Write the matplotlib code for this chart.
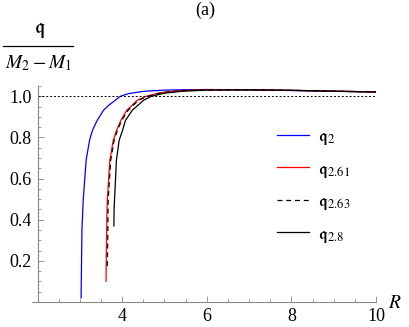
import matplotlib
matplotlib.use("Agg")
import matplotlib.pyplot as plt
from matplotlib.lines import Line2D

plt.rcParams.update({
    'font.family': 'Liberation Serif',
    'mathtext.fontset': 'stix',
    'font.size': 13,
})

# values
R_q2 = [3.03, 3.05, 3.08, 3.15, 3.23, 3.30, 3.41, 3.56, 3.68, 3.84, 3.96, 4.15,
        4.50, 5.0, 5.5, 6.0, 7.0, 8.0, 9.0, 10.0]
y_q2 = [0.02, 0.35, 0.495, 0.69, 0.786, 0.835, 0.883, 0.932, 0.956, 0.981, 1.0,
        1.013, 1.024, 1.030, 1.032, 1.033, 1.031, 1.028, 1.024, 1.021]

R_q261 = [3.62, 3.63, 3.64, 3.65, 3.71, 3.79, 3.87, 3.97, 4.11, 4.36, 4.57,
          4.91, 5.38, 6.0, 7.0, 8.0, 9.0, 10.0]
y_q261 = [0.10, 0.30, 0.42, 0.495, 0.689, 0.786, 0.835, 0.883, 0.932, 0.981,
          1.0, 1.018, 1.028, 1.032, 1.032, 1.029, 1.025, 1.021]

R_q263 = [3.65, 3.66, 3.67, 3.73, 3.81, 3.89, 3.99, 4.14, 4.39, 4.61, 4.95,
          5.44, 6.0, 7.0, 8.0, 9.0, 10.0]
y_q263 = [0.175, 0.30, 0.495, 0.689, 0.786, 0.835, 0.883, 0.932, 0.981, 1.0,
          1.018, 1.028, 1.031, 1.032, 1.029, 1.025, 1.021]

R_q28 = [3.805, 3.81, 3.82, 3.865, 3.93, 4.01, 4.08, 4.24, 4.51, 4.69, 5.0,
         5.4, 6.0, 7.0, 8.0, 9.0, 10.0]
y_q28 = [0.37, 0.45, 0.495, 0.689, 0.786, 0.835, 0.883, 0.932, 0.981, 1.0,
         1.015, 1.024, 1.030, 1.031, 1.029, 1.025, 1.021]

labels = [r'$\mathfrak{q}_{2}$', r'$\mathfrak{q}_{2.61}$',
          r'$\mathfrak{q}_{2.63}$', r'$\mathfrak{q}_{2.8}$']

x_major = [4, 6, 8, 10]
x_minor = [2.5, 3, 3.5, 4.5, 5, 5.5, 6.5, 7, 7.5, 8.5, 9, 9.5]
y_major = [0.2, 0.4, 0.6, 0.8, 1.0]
y_minor = [0.05, 0.1, 0.15, 0.25, 0.3, 0.35, 0.45, 0.5, 0.55, 0.65, 0.7,
           0.75, 0.85, 0.9, 0.95, 1.05]

fig = plt.figure(figsize=(4.09, 3.27), dpi=100)
ax = fig.add_axes([32 / 409, 25 / 327, 344 / 409, 216 / 327])

ax.plot(R_q2, y_q2, color='#0000ff', lw=0.9, label=labels[0])
ax.plot(R_q261, y_q261, color='#ff0000', lw=0.9, label=labels[1])
ax.plot(R_q263, y_q263, color='black', lw=0.9, dashes=(4, 3), label=labels[2])
ax.plot(R_q28, y_q28, color='black', lw=0.9, label=labels[3])

# reference line at 1
ax.plot([2.0, 10.0], [1.0, 1.0], color='black', lw=0.7, dashes=(2, 2))

ax.set_xlim(1.87, 10.0)
ax.set_ylim(0, 1.05)

for s in ['top', 'right']:
    ax.spines[s].set_visible(False)
ax.spines['left'].set_position(('data', 2.0))
for s in ['left', 'bottom']:
    ax.spines[s].set_color('#888888')
    ax.spines[s].set_linewidth(0.8)

ax.set_xticks(x_major)
ax.set_xticks(x_minor, minor=True)
ax.set_yticks(y_major)
ax.set_yticks(y_minor, minor=True)
ax.set_yticklabels([f"{v:.1f}" for v in y_major])
ax.tick_params(which='both', direction='in', color='#888888', width=0.6)
ax.tick_params(which='major', length=4.5, pad=4)
ax.tick_params(which='minor', length=2.5)

fig.text(205 / 409, 1 - 10 / 327, '(a)', ha='center', va='center', fontsize=13)
fig.text(395 / 409, 1 - 303 / 327, r'$R$', ha='center', va='center', fontsize=14)

# axis label as a stacked fraction
fig.text(40 / 409, 1 - 31 / 327, r'$\mathfrak{q}$', ha='center', va='center',
         fontsize=15)
fig.add_artist(Line2D([3 / 409, 73 / 409], [1 - 46 / 327, 1 - 46 / 327],
                      color='black', lw=0.9, transform=fig.transFigure))
fig.text(38 / 409, 1 - 63 / 327, r'$M_2 - M_1$', ha='center', va='center',
         fontsize=14)

ax.legend(loc='upper left', bbox_to_anchor=(277 / 409, 1 - 128 / 327),
          bbox_transform=fig.transFigure, frameon=False, borderpad=0,
          borderaxespad=0, handlelength=1.75, handletextpad=0.5,
          labelspacing=0.75, fontsize=13)

fig.savefig('out.png', dpi=100)
